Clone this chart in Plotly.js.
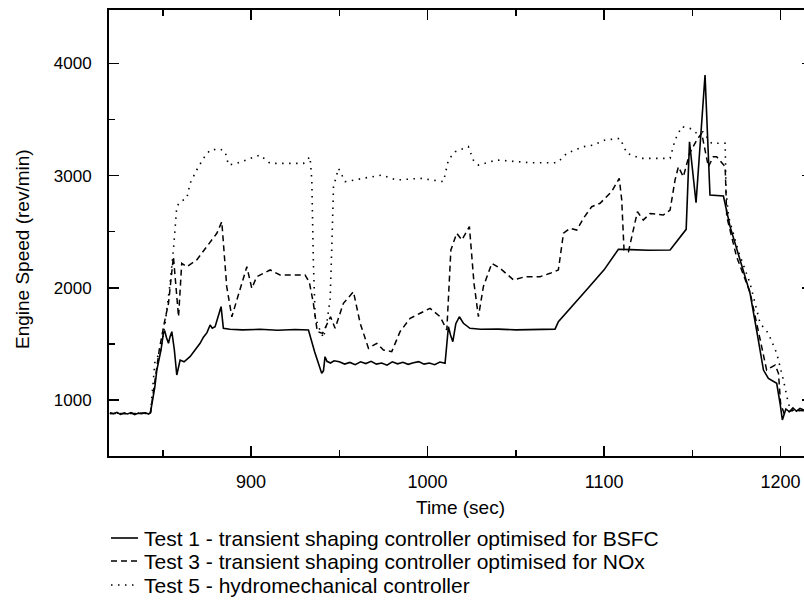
<!DOCTYPE html>
<html>
<head>
<meta charset="utf-8">
<script src="https://cdn.plot.ly/plotly-3.0.1.min.js"></script>
<style>html,body{margin:0;padding:0;background:#fff;overflow:hidden;}#chart{width:812px;height:608px;}</style>
</head>
<body>
<div id="chart"></div>
<script>
// Test 1 - transient shaping controller optimised for BSFC (solid)
var t1 = [820, 822, 824, 826, 828, 830, 832, 834, 836, 838, 840, 842, 843, 844.6, 845.5, 846.6, 848, 849, 850.3, 851, 852, 853.2, 854, 855.1, 856.5, 857.9, 859.8, 862, 865.4, 867, 869, 871.1, 873, 875, 876.8, 878, 879.6, 881, 883, 884.3, 888, 895, 905, 915, 925, 932.5, 936, 940, 941, 941.9, 943, 945, 947, 950, 953, 956, 959, 962, 965, 968, 971, 974, 977, 980, 983, 986, 989, 992, 995, 998, 1001, 1004, 1007, 1009.9, 1011.8, 1013, 1014.3, 1016, 1018, 1020.3, 1024, 1030, 1040, 1050, 1060, 1068, 1072.2, 1074.1, 1080, 1090, 1100, 1108.1, 1115, 1125, 1137.4, 1146.5, 1148.4, 1152.1, 1157.2, 1160, 1167.6, 1171.4, 1177, 1182.7, 1187, 1190.3, 1193.1, 1197.8, 1199.7, 1201, 1203, 1205, 1207, 1209, 1211, 1214, 1218];
var v1 = [885, 878, 890, 872, 884, 876, 888, 870, 882, 879, 886, 875, 890, 1029, 1120, 1267, 1380, 1450, 1594, 1620, 1560, 1505, 1560, 1609, 1450, 1223, 1356, 1340, 1386, 1420, 1460, 1505, 1560, 1600, 1668, 1640, 1653, 1720, 1832, 1639, 1630, 1625, 1630, 1622, 1628, 1624, 1430, 1238, 1260, 1386, 1345, 1330, 1350, 1341, 1320, 1335, 1315, 1340, 1325, 1345, 1320, 1330, 1310, 1340, 1322, 1336, 1318, 1332, 1342, 1320, 1330, 1315, 1338, 1327, 1653, 1580, 1520, 1680, 1742, 1684, 1639, 1630, 1632, 1625, 1628, 1630, 1632, 1698, 1800, 1980, 2160, 2343, 2340, 2335, 2337, 2521, 3302, 2758, 3897, 2827, 2818, 2545, 2250, 1951, 1570, 1267, 1193, 1149, 971, 822, 920, 895, 930, 900, 925, 905, 915];

// Test 3 - transient shaping controller optimised for NOx (dashed)
var t3 = [820, 830, 843, 845, 848, 851, 853.2, 856, 858.9, 860.7, 863.6, 869.2, 876.8, 880.6, 883.4, 886.2, 889.1, 891.9, 897.6, 900.4, 903.2, 910.8, 916.4, 930.6, 933, 935.3, 937.5, 940.5, 943.8, 945, 947.6, 952.3, 958, 961.8, 966.5, 971.2, 975, 979.7, 984.4, 990.1, 995.8, 1001.4, 1007.1, 1010.9, 1013.2, 1016.5, 1019.4, 1023.7, 1026.3, 1028.8, 1031.6, 1036.4, 1041.1, 1048.7, 1055.3, 1063.7, 1069.4, 1074.1, 1077, 1080.7, 1084.5, 1088.3, 1093, 1097.7, 1104.3, 1108.6, 1110, 1111.3, 1113.8, 1116.5, 1118.9, 1122.2, 1126.1, 1133.6, 1137.4, 1140.2, 1142.1, 1144.9, 1148.5, 1152.5, 1155.3, 1159.1, 1161.9, 1163.8, 1168.6, 1169.5, 1175, 1182.7, 1188, 1192.1, 1196.9, 1198.8, 1200, 1202, 1207, 1218];
var v3 = [880, 878, 885, 1100, 1450, 1700, 1862, 2277, 1742, 2218, 2188, 2248, 2411, 2486, 2589, 2010, 1742, 1891, 2188, 1995, 2099, 2159, 2114, 2114, 2050, 1862, 1610, 1594, 1700, 1742, 1639, 1862, 1965, 1684, 1461, 1505, 1446, 1431, 1609, 1728, 1773, 1817, 1742, 1624, 2337, 2486, 2426, 2545, 2040, 1742, 2010, 2218, 2174, 2070, 2099, 2099, 2129, 2159, 2486, 2530, 2515, 2619, 2723, 2753, 2857, 2976, 2783, 2337, 2322, 2500, 2678, 2604, 2663, 2649, 2693, 2961, 3079, 2990, 3200, 3317, 3377, 3079, 3168, 3168, 3079, 2634, 2280, 1960, 1560, 1267, 1312, 1238, 971, 880, 910, 900];

// Test 5 - hydromechanical controller (dotted)
var t5 = [820, 830, 843, 845.6, 848.4, 851.3, 854.1, 856, 857.9, 859.8, 863.6, 865.4, 869.2, 873, 876.8, 882.4, 885.3, 887.2, 891.9, 899.4, 905.1, 910.8, 920, 929.7, 933.4, 934.4, 935.3, 936.3, 938.2, 941, 943, 944.8, 945.8, 946.7, 949.5, 953.3, 963.6, 974, 982.5, 995.8, 1009, 1011.8, 1015.6, 1023.1, 1025.9, 1028.8, 1039.2, 1058.1, 1073.2, 1075.1, 1078.9, 1088.3, 1094, 1100.6, 1109.1, 1112.9, 1120.4, 1137.4, 1140.2, 1144, 1148.7, 1152.5, 1156, 1160.9, 1168.6, 1169.1, 1170.5, 1176, 1182.7, 1188.4, 1193.1, 1197.8, 1201.6, 1204.4, 1206, 1218];
var v5 = [880, 885, 880, 1356, 1416, 1684, 2040, 2337, 2723, 2768, 2797, 2931, 3050, 3154, 3228, 3237, 3213, 3094, 3109, 3154, 3184, 3109, 3109, 3109, 3168, 2961, 2218, 1742, 1653, 1554, 1700, 1900, 2400, 2900, 3065, 2946, 2976, 3005, 2961, 2976, 2946, 3139, 3213, 3258, 3139, 3094, 3139, 3115, 3115, 3139, 3199, 3258, 3273, 3317, 3332, 3199, 3154, 3154, 3317, 3436, 3421, 3377, 3390, 3288, 3288, 2872, 2634, 2330, 2040, 1684, 1594, 1416, 1178, 970, 905, 910];

var names = [
  'Test 1 - transient shaping controller optimised for BSFC',
  'Test 3 - transient shaping controller optimised for NOx',
  'Test 5 - hydromechanical controller'
];
var xTickVals = [900, 1000, 1100, 1200];
var yTickVals = [1000, 2000, 3000, 4000];

var FONT = 'Liberation Sans, Arial, sans-serif';
var styles = [
  {color: '#000', width: 1.6, dash: 'solid'},
  {color: '#000', width: 1.5, dash: '6px,4px'},
  {color: '#000', width: 1.6, dash: '1.5px,5.5px'}
];
var series = [[t1, v1], [t3, v3], [t5, v5]];
var traces = series.map(function (s, i) {
  return {x: s[0], y: s[1], type: 'scatter', mode: 'lines', name: names[i],
          line: styles[i], showlegend: false, hoverinfo: 'skip'};
});

// page geometry (plot frame extends past the right edge of the 804px window)
var W = 812, H = 608;
var plotTop = 10, plotH = 446, plotL = 109, plotW = W - plotL;
function py(px) { return 1 - (px - plotTop) / plotH; }
function pxX(px) { return (px - plotL) / plotW; }

// legend built from shapes + annotations (below the plot)
var legRows = [538, 561, 585];
var shapes = [], annotations = [];
legRows.forEach(function (yy, i) {
  shapes.push({type: 'line', xref: 'paper', yref: 'paper', x0: pxX(111), x1: pxX(138),
               y0: py(yy), y1: py(yy), line: {color: '#000', width: i === 0 ? 1.6 : 1.4, dash: styles[i].dash}});
  annotations.push({xref: 'paper', yref: 'paper', x: pxX(142), y: py(yy), xanchor: 'left', yanchor: 'middle',
                    text: names[i], showarrow: false, font: {family: FONT, size: 21, color: '#000'}});
});
// y axis title
annotations.push({xref: 'paper', yref: 'paper', x: pxX(22), y: py(249), xanchor: 'center', yanchor: 'middle',
                  textangle: -90, text: 'Engine Speed (rev/min)', showarrow: false,
                  font: {family: FONT, size: 19, color: '#000'}});

var axisCommon = {
  showgrid: false, zeroline: false, showline: true, linecolor: '#000', linewidth: 2,
  mirror: 'allticks', ticks: 'inside', tickcolor: '#000', tickwidth: 1.5,
  tickfont: {family: FONT, size: 18, color: '#000'}
};
var layout = {
  width: W, height: H,
  margin: {l: plotL, r: 0, t: plotTop, b: H - plotTop - plotH, pad: 0},
  paper_bgcolor: '#fff', plot_bgcolor: '#fff',
  font: {family: FONT, color: '#000'},
  xaxis: Object.assign({}, axisCommon, {
    range: [819.5, 1217.8], tickvals: xTickVals, ticklen: 10, ticklabelstandoff: 8,
    minor: {dtick: 50, tick0: 0, ticks: 'inside', ticklen: 6, tickwidth: 1.5, tickcolor: '#000'},
    title: {text: 'Time (sec)', font: {family: FONT, size: 19, color: '#000'}, standoff: 10}
  }),
  yaxis: Object.assign({}, axisCommon, {
    range: [500.9, 4476], tickvals: yTickVals, ticklen: 10, ticklabelstandoff: 12,
    tickfont: {family: FONT, size: 17, color: '#000'},
    minor: {dtick: 500, tick0: 0, ticks: 'inside', ticklen: 6, tickwidth: 1.5, tickcolor: '#000'}
  }),
  shapes: shapes,
  annotations: annotations,
  showlegend: false
};
Plotly.newPlot('chart', traces, layout, {displayModeBar: false, staticPlot: true});
</script>
</body>
</html>
